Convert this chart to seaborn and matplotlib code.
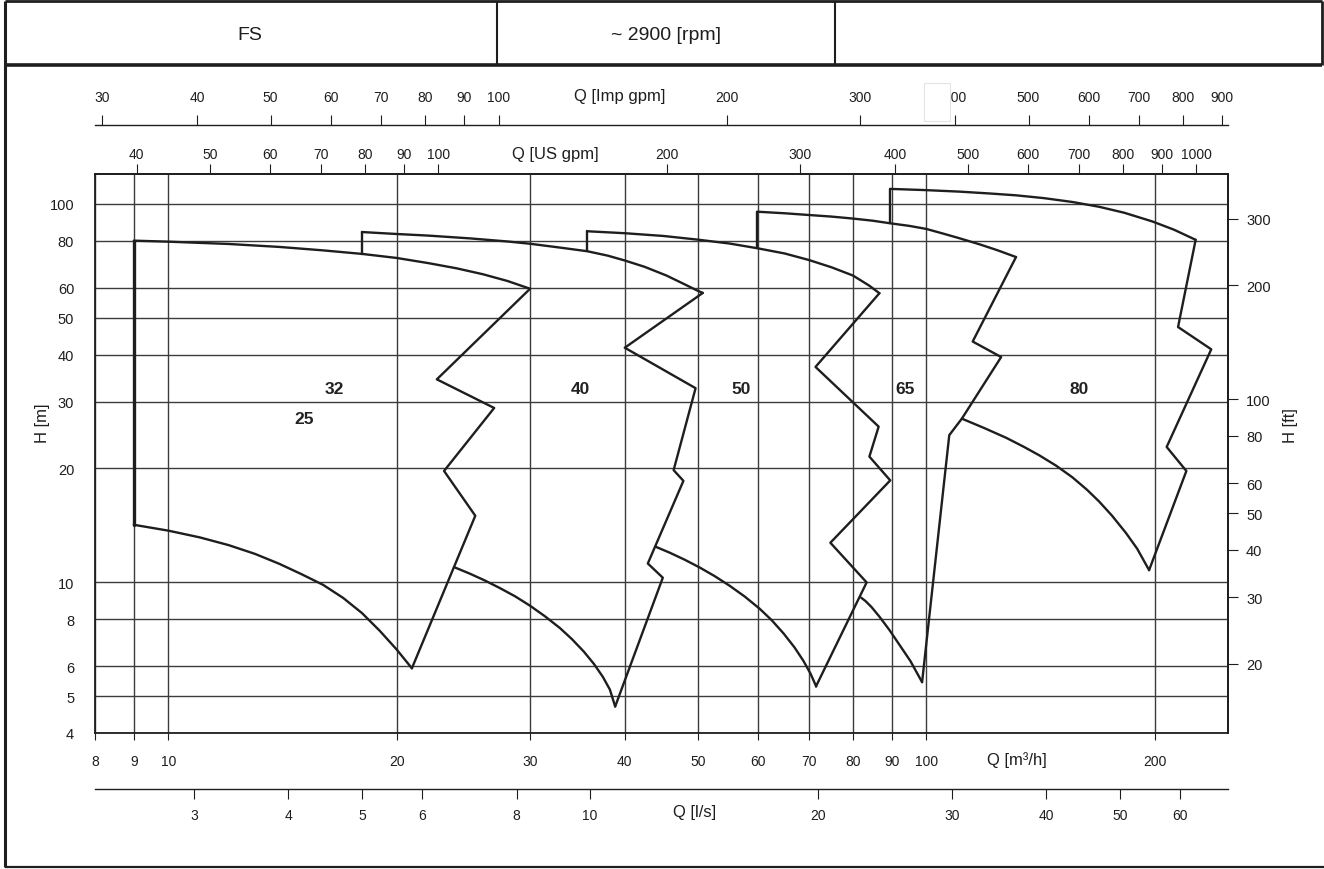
import matplotlib
matplotlib.use("Agg")
import matplotlib.pyplot as plt
import pandas as pd
import seaborn as sns
from matplotlib.ticker import NullLocator
from matplotlib.lines import Line2D
from matplotlib.patches import Rectangle

# ---------------- data (Q in m3/h, H in m) ----------------
# tile 1 (labels 25 / 32)
t1_left_q = [9, 9]
t1_left_h = [80, 14.2]
t1_top_q = [9, 10, 12, 14, 16, 18, 20, 22, 24, 26, 28, 30]
t1_top_h = [80, 79.5, 78.4, 77.0, 75.4, 73.8, 72.0, 69.8, 67.6, 65.2, 62.6, 59.7]
t1_right_q = [30, 22.6, 26.9, 23.1, 25.4, 20.95]
t1_right_h = [59.7, 34.4, 28.9, 19.7, 15.0, 5.93]
t1_bot_q = [9, 10, 11, 12, 13, 14, 15, 16, 17, 18, 19, 20, 20.95]
t1_bot_h = [14.2, 13.7, 13.15, 12.55, 11.9, 11.2, 10.5, 9.85, 9.1, 8.3, 7.45, 6.65, 5.93]

# tile 2 (label 40)
t2_step_q = [18, 18]
t2_step_h = [73.8, 84.3]
t2_top_q = [18, 20, 22, 25, 28, 30, 33, 35.7, 38, 40, 42.5, 45.4, 48, 49.9, 50.7]
t2_top_h = [84.3, 83.3, 82.5, 81.1, 79.6, 78.5, 76.6, 75.0, 73.0, 70.9, 68.2, 64.7, 61.3, 59.0, 58.2]
t2_right_q = [50.7, 40.0, 49.6, 46.4, 47.8, 42.9, 44.9, 38.85]
t2_right_h = [58.2, 41.7, 32.6, 19.8, 18.55, 11.22, 10.29, 4.70]
t2_bot_q = [23.88, 25.0, 26.17, 27.37, 28.66, 29.99, 31.38, 32.86, 34.07, 35.33, 36.42, 37.42, 38.23, 38.85]
t2_bot_h = [10.95, 10.54, 10.11, 9.66, 9.19, 8.68, 8.14, 7.57, 7.08, 6.56, 6.09, 5.63, 5.21, 4.70]

# tile 3 (label 50)
t3_step_q = [35.7, 35.7]
t3_step_h = [75.0, 84.7]
t3_top_q = [35.7, 40, 45, 49.9, 55, 59.8, 65, 70, 75, 80, 84, 86.7]
t3_top_h = [84.7, 83.7, 82.3, 80.5, 78.6, 76.4, 74.0, 71.1, 68.0, 64.7, 60.9, 58.1]
t3_right_q = [86.7, 71.4, 86.5, 84.1, 89.6, 74.7, 83.4, 71.5]
t3_right_h = [58.1, 37.1, 25.8, 21.5, 18.6, 12.73, 10.0, 5.31]
t3_bot_q = [43.95, 45.86, 47.99, 50.22, 52.56, 55.0, 57.57, 60.26, 62.49, 64.8, 67.0, 68.84, 70.33, 71.55]
t3_bot_h = [12.42, 11.98, 11.48, 10.95, 10.39, 9.80, 9.18, 8.52, 7.95, 7.33, 6.73, 6.20, 5.74, 5.31]

# tile 4 (label 65)
t4_step_q = [59.8, 59.8]
t4_step_h = [76.4, 95.4]
t4_top_q = [59.8, 65, 70, 75, 80, 85, 89.6, 95, 100, 105, 110.5, 117.6, 124, 131.3]
t4_top_h = [95.4, 94.5, 93.5, 92.6, 91.5, 90.3, 88.9, 87.5, 85.9, 83.6, 81.2, 78.2, 75.5, 72.4]
t4_right_q = [131.3, 115.1, 125.5, 111.4, 107.2, 98.7]
t4_right_h = [72.4, 43.3, 39.4, 27.1, 24.5, 5.45]
t4_bot_q = [82.03, 83.1, 84.63, 86.7, 89.4, 92.1, 95.25, 98.7]
t4_bot_h = [9.11, 8.93, 8.61, 8.12, 7.48, 6.85, 6.20, 5.45]

# tile 5 (label 80)
t5_step_q = [89.6, 89.6]
t5_step_h = [88.9, 109.6]
t5_top_q = [89.6, 99.7, 110.5, 121.1, 131.3, 143.0, 155.9, 169.0, 182.4, 198.7, 212.2, 226.6]
t5_top_h = [109.6, 108.8, 107.8, 106.6, 105.4, 103.6, 101.2, 98.3, 94.8, 89.9, 85.5, 80.4]
t5_right_q = [226.6, 214.8, 237.6, 207.5, 220.3, 196.7]
t5_right_h = [80.4, 47.3, 41.3, 22.8, 19.7, 10.77]
t5_bot_q = [111.4, 119.2, 127.4, 134.6, 140.9, 148.4, 155.9, 163.0, 169.0, 175.8, 183.3, 189.7, 196.7]
t5_bot_h = [27.08, 25.58, 24.11, 22.79, 21.67, 20.33, 18.94, 17.55, 16.36, 15.0, 13.52, 12.28, 10.78]

size_labels = ["32", "25", "40", "50", "65", "80"]
size_label_q = [16.55, 15.1, 35.0, 56.9, 93.6, 159]
size_label_h = [32.5, 27.1, 32.5, 32.5, 32.5, 32.5]

# axis ticks
q_ticks = [8, 9, 10, 20, 30, 40, 50, 60, 70, 80, 90, 100, 200]
h_ticks = [4, 5, 6, 8, 10, 20, 30, 40, 50, 60, 80, 100]
ft_ticks = [20, 30, 40, 50, 60, 80, 100, 200, 300]
ls_ticks = [3, 4, 5, 6, 8, 10, 20, 30, 40, 50, 60]
usgpm_ticks = [40, 50, 60, 70, 80, 90, 100, 200, 300, 400, 500, 600, 700, 800, 900, 1000]
impgpm_ticks = [30, 40, 50, 60, 70, 80, 90, 100, 200, 300, 400, 500, 600, 700, 800, 900]

# ---------------- build long table ----------------
segments = [
    (t1_top_q, t1_top_h), (t1_right_q, t1_right_h), (t1_bot_q, t1_bot_h),
    (t2_step_q, t2_step_h), (t2_top_q, t2_top_h), (t2_right_q, t2_right_h), (t2_bot_q, t2_bot_h),
    (t3_step_q, t3_step_h), (t3_top_q, t3_top_h), (t3_right_q, t3_right_h), (t3_bot_q, t3_bot_h),
    (t4_step_q, t4_step_h), (t4_top_q, t4_top_h), (t4_right_q, t4_right_h), (t4_bot_q, t4_bot_h),
    (t5_step_q, t5_step_h), (t5_top_q, t5_top_h), (t5_right_q, t5_right_h), (t5_bot_q, t5_bot_h),
]
rows = []
for i, (qs, hs) in enumerate(segments):
    for j, (q, h) in enumerate(zip(qs, hs)):
        rows.append({"seg": i, "order": j, "Q": q, "H": h})
df = pd.DataFrame(rows)
df_left = pd.DataFrame({"seg": 0, "Q": t1_left_q, "H": t1_left_h})

# ---------------- styling ----------------
sns.set_theme(style="ticks")
plt.rcParams["font.family"] = ["Liberation Sans", "DejaVu Sans"]
INK = "#1e1e1e"
GRID = "#3c3c3c"

W, H = 1324, 870
fig = plt.figure(figsize=(W / 100, H / 100), dpi=100)
fig.patch.set_facecolor("white")


def fx(x):
    return x / W


def fy(y):
    return 1 - y / H


L, R, T, B = 95, 1228, 175, 734
ax = fig.add_axes([fx(L), fy(B), (R - L) / W, (B - T) / H])
ax.set_xscale("log")
ax.set_yscale("log")
ax.set_xlim(8, 250)
ax.set_ylim(4, 120)

sns.lineplot(data=df, x="Q", y="H", units="seg", estimator=None, sort=False,
             color=INK, linewidth=1.7, ax=ax, legend=False)
sns.lineplot(data=df_left, x="Q", y="H", units="seg", estimator=None, sort=False,
             color=INK, linewidth=2.4, ax=ax, legend=False)

for lab, q, h in zip(size_labels, size_label_q, size_label_h):
    ax.text(q, h, lab, ha="center", va="center", fontsize=12.5,
            fontweight="bold", color="#222222")

ax.set_xticks(q_ticks, labels=[str(v) for v in q_ticks])
ax.set_yticks(h_ticks, labels=[str(v) for v in h_ticks])
ax.xaxis.set_minor_locator(NullLocator())
ax.yaxis.set_minor_locator(NullLocator())
ax.grid(True, which="major", color=GRID, linewidth=1.0)
ax.tick_params(axis="x", which="major", direction="out", length=5, width=0.8,
               pad=10, labelsize=10, colors=INK, top=False)
ax.tick_params(axis="y", which="major", length=0, pad=15, labelsize=10.5,
               colors=INK, right=False)
ax.set_xlabel("")
ax.set_ylabel("")
for s in ax.spines.values():
    s.set_color(INK)
    s.set_linewidth(1.3)

# secondary axes
sec_ft = ax.secondary_yaxis("right", functions=(lambda m: m * 3.28084, lambda f: f / 3.28084))
sec_ft.set_yticks(ft_ticks, labels=[str(v) for v in ft_ticks])
sec_ft.yaxis.set_minor_locator(NullLocator())
sec_ft.tick_params(direction="out", length=7, width=0.8, pad=6, labelsize=10.5, colors=INK)
sec_ft.spines["right"].set_color(INK)

sec_ls = ax.secondary_xaxis((B - 790) / (B - T), functions=(lambda q: q / 3.6, lambda l: l * 3.6))
sec_ls.set_xticks(ls_ticks, labels=[str(v) for v in ls_ticks])
sec_ls.xaxis.set_minor_locator(NullLocator())
sec_ls.tick_params(direction="out", length=7, width=0.8, pad=7, labelsize=10, colors=INK)
for s in sec_ls.spines.values():
    s.set_color(INK)
    s.set_linewidth(1.0)

sec_us = ax.secondary_xaxis("top", functions=(lambda q: q * 4.40287, lambda g: g / 4.40287))
sec_us.set_xticks(usgpm_ticks, labels=[str(v) for v in usgpm_ticks])
sec_us.xaxis.set_minor_locator(NullLocator())
sec_us.tick_params(direction="out", length=7, width=0.8, pad=2, labelsize=10, colors=INK)

sec_imp = ax.secondary_xaxis((B - 126) / (B - T), functions=(lambda q: q * 3.66615, lambda g: g / 3.66615))
sec_imp.set_xticks(impgpm_ticks, labels=[str(v) for v in impgpm_ticks])
sec_imp.xaxis.set_minor_locator(NullLocator())
sec_imp.tick_params(direction="out", length=7, width=0.8, pad=8, labelsize=10, colors=INK)
for s in sec_imp.spines.values():
    s.set_color(INK)
    s.set_linewidth(1.0)

# axis titles placed inline like the reference
fig.text(fx(555), fy(154), "Q [US gpm]", ha="center", va="center", fontsize=12, color=INK)
fig.text(fx(620), fy(97), "Q [Imp gpm]", ha="center", va="center", fontsize=12, color=INK)
fig.text(fx(1017), fy(760), "Q [m³/h]", ha="center", va="center", fontsize=12, color=INK)
fig.text(fx(695), fy(813), "Q [l/s]", ha="center", va="center", fontsize=12, color=INK)
fig.text(fx(42), fy(423), "H [m]", ha="center", va="center", rotation=90, fontsize=12, color=INK)
fig.text(fx(1290), fy(426), "H [ft]", ha="center", va="center", rotation=90, fontsize=12, color=INK)

# white patch hiding the '4' of the 400 Imp gpm label, as in the reference
fig.add_artist(Rectangle((fx(924), fy(122)), (950 - 924) / W, (122 - 84) / H,
                         transform=fig.transFigure, facecolor="white",
                         edgecolor="#e4e4e4", linewidth=0.8, zorder=10))

# header table and frame
def fline(x0, y0, x1, y1, lw):
    fig.add_artist(Line2D([fx(x0), fx(x1)], [fy(y0), fy(y1)], transform=fig.transFigure,
                          color=INK, linewidth=lw, solid_capstyle="butt"))


fline(5, 2, 1322, 2, 2.0)
fline(5, 66, 1322, 66, 2.6)
fline(5, 2, 5, 868, 2.2)
fline(1322, 2, 1322, 66, 2.0)
fline(497, 2, 497, 66, 1.5)
fline(835, 2, 835, 66, 1.5)
fline(5, 868, 1324, 868, 1.6)

fig.text(fx(250), fy(35), "FS", ha="center", va="center", fontsize=14, color=INK)
fig.text(fx(666), fy(35), "~ 2900 [rpm]", ha="center", va="center", fontsize=14, color=INK)

fig.savefig("out.png", dpi=100, facecolor="white")
